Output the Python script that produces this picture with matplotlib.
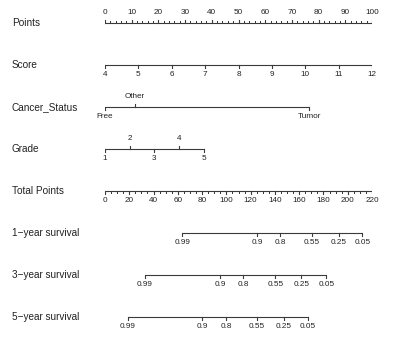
import matplotlib
matplotlib.use('Agg')
import matplotlib.pyplot as plt
import matplotlib.transforms as mtrans

# values (points scale 0-100)
row_names = ['Points', 'Score', 'Cancer_Status', 'Grade', 'Total Points',
             '1\u2212year survival', '3\u2212year survival', '5\u2212year survival']

points_major = [0, 10, 20, 30, 40, 50, 60, 70, 80, 90, 100]
points_minor = list(range(0, 101, 2))

score_labels = ['4', '5', '6', '7', '8', '9', '10', '11', '12']
score_pts = [0, 12.5, 25, 37.5, 50, 62.5, 75, 87.5, 100]

status_labels = ['Free', 'Other', 'Tumor']
status_pts = [0, 11.2, 76.4]
status_side = ['below', 'above', 'below']

grade_labels = ['1', '2', '3', '4', '5']
grade_pts = [0, 9.3, 18.5, 27.8, 37.1]
grade_side = ['below', 'above', 'below', 'above', 'below']

total_major = [0, 20, 40, 60, 80, 100, 120, 140, 160, 180, 200, 220]
total_minor = list(range(0, 221, 5))
total_max = 220

surv_labels = ['0.99', '0.9', '0.8', '0.55', '0.25', '0.05']
surv1_total = [63.5, 125.2, 144.4, 170.5, 192.5, 212.0]
surv3_total = [33.0, 94.9, 114.1, 140.3, 161.7, 182.3]
surv5_total = [18.7, 79.8, 99.6, 125.2, 147.1, 167.2]

plt.rcParams['font.family'] = ['Liberation Sans', 'DejaVu Sans']
W, H = 397, 341
fig = plt.figure(figsize=(W / 100, H / 100), dpi=100)
ax = fig.add_axes([105 / W, 0, (372 - 105) / W, 1])
ax.set_xlim(0, 100)
ax.set_ylim(-7 - 24 / 42, 23 / 42)
ax.axis('off')

LC = '#3a3a3a'
LW = 0.8
TICK = 3.2 / 42
MINOR = 1.6 / 42
OFF_UP = 10 / 42
OFF_DN = 9.5 / 42
TFS = 5.9

lab_tr = mtrans.blended_transform_factory(fig.transFigure, ax.transData)


def draw_scale(row, xs, labels, sides, minor=None, minor_up=False):
    y = -row
    ax.plot([min(xs), max(xs)], [y, y], color=LC, lw=LW, solid_capstyle='butt')
    for x, lab, side in zip(xs, labels, sides):
        if side == 'above':
            ax.plot([x, x], [y, y + TICK], color=LC, lw=LW)
            ax.text(x, y + OFF_UP, lab, ha='center', va='center', fontsize=TFS, color='#222222')
        else:
            ax.plot([x, x], [y, y - TICK], color=LC, lw=LW)
            ax.text(x, y - OFF_DN, lab, ha='center', va='center', fontsize=TFS, color='#222222')
    if minor is not None:
        for x in minor:
            d = MINOR if minor_up else -MINOR
            ax.plot([x, x], [y, y + d], color=LC, lw=LW * 0.9)


for i, name in enumerate(row_names):
    ax.text(12 / W, -i, name, transform=lab_tr, ha='left', va='center',
            fontsize=7.2, color='#222222')

# Points
draw_scale(0, points_major, [str(v) for v in points_major], ['above'] * len(points_major),
           minor=points_minor, minor_up=True)
# Score
draw_scale(1, score_pts, score_labels, ['below'] * len(score_pts))
# Cancer_Status
draw_scale(2, status_pts, status_labels, status_side)
# Grade
draw_scale(3, grade_pts, grade_labels, grade_side)
# Total Points
tx = [v * 100 / total_max for v in total_major]
tmin = [v * 100 / total_max for v in total_minor]
draw_scale(4, tx, [str(v) for v in total_major], ['below'] * len(total_major), minor=tmin)
# survival scales
for r, vals in zip([5, 6, 7], [surv1_total, surv3_total, surv5_total]):
    sx = [v * 100 / total_max for v in vals]
    draw_scale(r, sx, surv_labels, ['below'] * len(sx))

fig.savefig('out.png', dpi=100, facecolor='white')
